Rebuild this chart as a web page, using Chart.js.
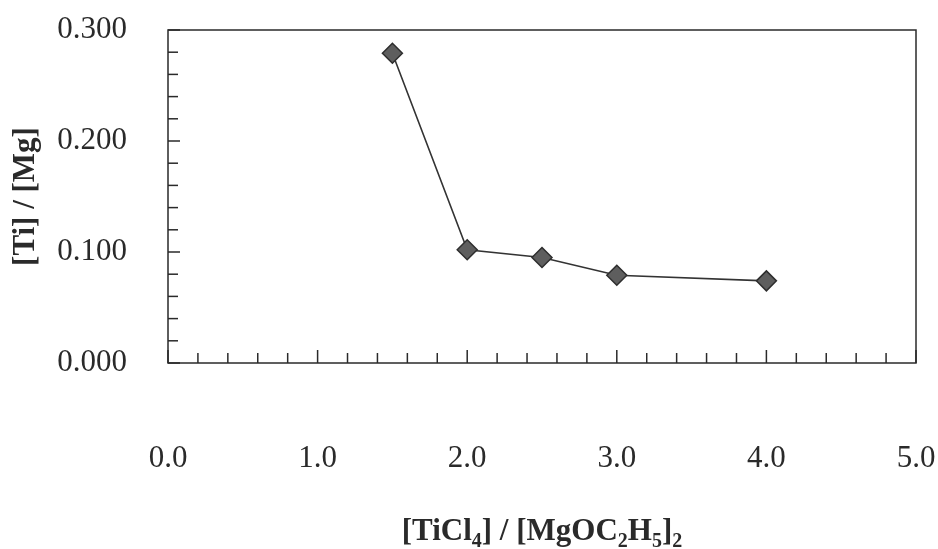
<!DOCTYPE html>
<html>
<head>
<meta charset="utf-8">
<script src="https://cdn.jsdelivr.net/npm/chart.js@4"></script>
<style>
html,body{margin:0;padding:0;background:#fff}
#wrap{width:938px;height:549px}
</style>
</head>
<body>
<div id="wrap"><canvas id="c" width="938" height="549"></canvas></div>
<script>

const ratioTiCl4 = [1.5, 2.0, 2.5, 3.0, 4.0]
const tiMgRatio = [0.279, 0.102, 0.095, 0.079, 0.074]

const xLabelTicks = [0, 1, 2, 3, 4, 5]
const yLabelTicks = [0, 0.1, 0.2, 0.3]

const yTitle = "[Ti] / [Mg]"
const xTitleParts = [["[TiCl",0],["4",1],["] / [MgOC",0],["2",1],["H",0],["5",1],["]",0],["2",1]]

const serif = "'Liberation Serif','Times New Roman',serif"
const ink = "#2a2a2a"

const isLabelled = (v,list)=>list.some(t=>Math.abs(t-v)<1e-6)

/* ===== рамка и засечки внутрь ===== */

const frameTicks = {

id:"frameTicks",

beforeDatasetsDraw(chart){

const {ctx, chartArea:{left,right,top,bottom}, scales:{x,y}} = chart

ctx.save()
ctx.strokeStyle = ink
ctx.lineWidth = 1.5

ctx.strokeRect(left,top,right-left,bottom-top)

x.ticks.forEach(t=>{
const px = x.getPixelForValue(t.value)
const len = isLabelled(t.value,xLabelTicks) ? 13 : 10
ctx.beginPath()
ctx.moveTo(px,bottom)
ctx.lineTo(px,bottom-len)
ctx.stroke()
})

y.ticks.forEach(t=>{
const py = y.getPixelForValue(t.value)
const len = isLabelled(t.value,yLabelTicks) ? 12 : 10
ctx.beginPath()
ctx.moveTo(left,py)
ctx.lineTo(left+len,py)
ctx.stroke()
})

ctx.restore()

}

}

/* ===== подпись оси X с индексами ===== */

const xTitlePlugin = {

id:"xTitle",

afterDraw(chart){

const {ctx, chartArea:{left,right}} = chart
const big = "bold 31px "+serif
const small = "bold 20px "+serif

ctx.save()
ctx.fillStyle = ink
ctx.textBaseline = "alphabetic"

let total = 0
xTitleParts.forEach(([s,sub])=>{
ctx.font = sub ? small : big
total += ctx.measureText(s).width
})

let cx = (left+right)/2 - total/2
const base = 540

xTitleParts.forEach(([s,sub])=>{
ctx.font = sub ? small : big
ctx.fillText(s,cx,sub ? base+7 : base)
cx += ctx.measureText(s).width
})

ctx.restore()

}

}

new Chart(document.getElementById("c"),{

type:"line",

data:{
datasets:[{
data:ratioTiCl4.map((v,i)=>({x:v,y:tiMgRatio[i]})),
borderColor:"#333",
borderWidth:1.6,
tension:0,
pointStyle:"rectRot",
pointRadius:10,
pointHoverRadius:10,
pointBackgroundColor:"#5e5e5e",
pointBorderColor:"#2e2e2e",
pointBorderWidth:1.5
}]
},

options:{

responsive:false,
animation:false,
events:[],

layout:{padding:{top:30,right:22,left:0,bottom:0}},

plugins:{
legend:{display:false},
tooltip:{enabled:false}
},

scales:{

x:{
type:"linear",
min:0,
max:5,
grid:{display:false},
border:{display:false},
ticks:{
stepSize:0.2,
autoSkip:false,
maxRotation:0,
padding:69,
color:ink,
font:{family:serif,size:31},
callback:v=>isLabelled(v,xLabelTicks) ? v.toFixed(1) : ""
},
afterFit(s){
s.height = 186
s.paddingLeft = 0
s.paddingRight = 0
}
},

y:{
min:0,
max:0.3,
grid:{display:false},
border:{display:false},
title:{
display:true,
text:yTitle,
color:ink,
padding:{top:7,bottom:0},
font:{family:serif,size:31,weight:"bold"}
},
ticks:{
stepSize:0.02,
autoSkip:false,
padding:33,
color:ink,
font:{family:serif,size:31},
callback:v=>isLabelled(v,yLabelTicks) ? v.toFixed(3) : ""
},
afterFit(s){
s.width = 168
s.paddingTop = 0
s.paddingBottom = 0
}
}

}

},

plugins:[frameTicks,xTitlePlugin]

})

</script>
</body>
</html>
